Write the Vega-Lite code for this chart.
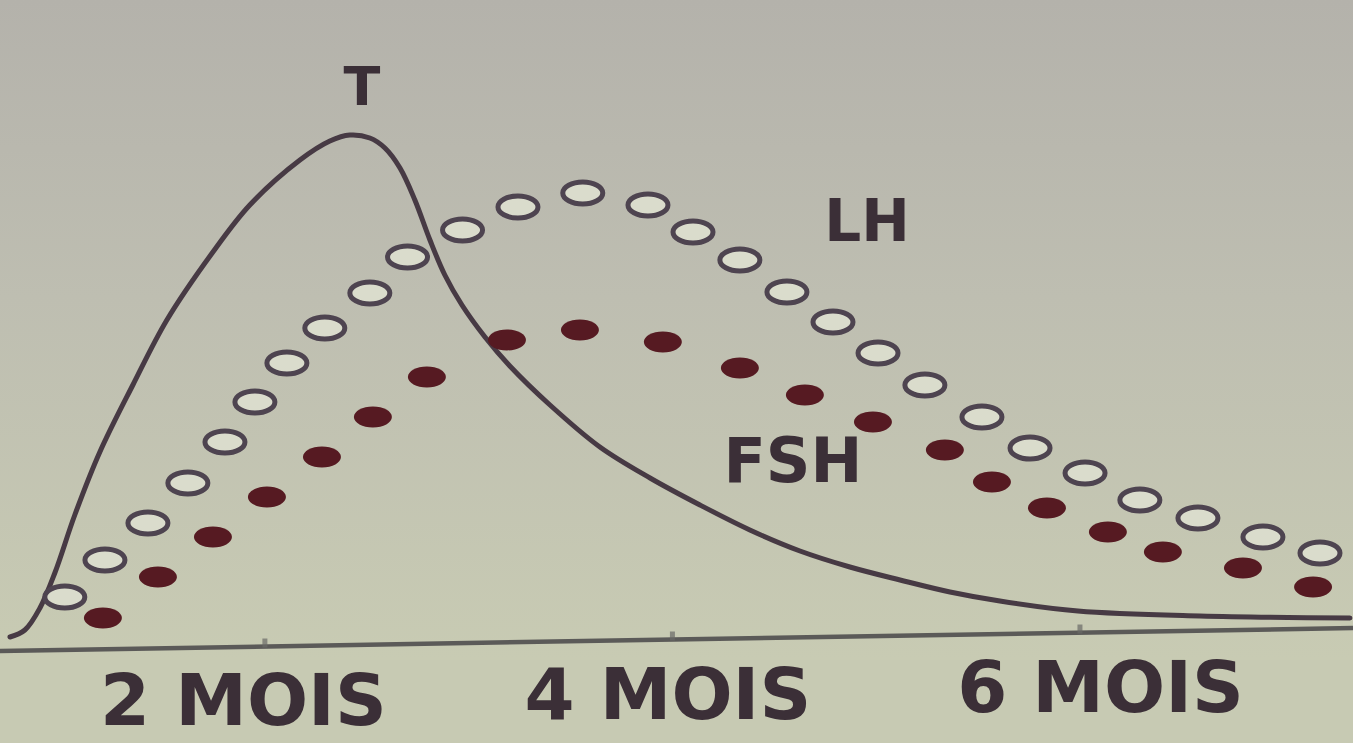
{
  "$schema": "https://vega.github.io/schema/vega-lite/v6.json",
  "width": 1353,
  "height": 660,
  "autosize": {"type": "none"},
  "padding": {"left": 0, "top": 0, "right": 0, "bottom": 83},
  "background": "#c7cab3",
  "config": {
    "view": {
      "stroke": null,
      "fill": {
        "gradient": "linear",
        "x1": 0, "y1": 0, "x2": 0, "y2": 1,
        "stops": [
          {"offset": 0, "color": "#b4b2ab"},
          {"offset": 0.45, "color": "#bebeb1"},
          {"offset": 1, "color": "#c8cbb3"}
        ]
      }
    },
    "text": {"font": "DejaVu Sans", "fontWeight": "bold", "color": "#3b2f37"}
  },
  "datasets": {
    "axisline": [
      {"m": 0.7, "v": 9},
      {"m": 7.34, "v": 32}
    ],
    "notches": [
      {"m": 2, "v": 17},
      {"m": 4, "v": 24},
      {"m": 6, "v": 31}
    ],
    "T": [
      {"m": 0.749, "v": 23},
      {"m": 0.822, "v": 30},
      {"m": 0.896, "v": 52},
      {"m": 0.969, "v": 87},
      {"m": 1.067, "v": 145},
      {"m": 1.190, "v": 208},
      {"m": 1.352, "v": 275},
      {"m": 1.519, "v": 340},
      {"m": 1.745, "v": 408},
      {"m": 1.926, "v": 455},
      {"m": 2.172, "v": 500},
      {"m": 2.319, "v": 519},
      {"m": 2.417, "v": 525},
      {"m": 2.515, "v": 522},
      {"m": 2.589, "v": 512},
      {"m": 2.663, "v": 492},
      {"m": 2.736, "v": 460},
      {"m": 2.810, "v": 420},
      {"m": 2.883, "v": 385},
      {"m": 2.967, "v": 355},
      {"m": 3.080, "v": 323},
      {"m": 3.202, "v": 294},
      {"m": 3.399, "v": 255},
      {"m": 3.644, "v": 213},
      {"m": 3.890, "v": 182},
      {"m": 4.135, "v": 155},
      {"m": 4.380, "v": 130},
      {"m": 4.626, "v": 109},
      {"m": 4.871, "v": 93},
      {"m": 5.117, "v": 80},
      {"m": 5.362, "v": 68},
      {"m": 5.607, "v": 59},
      {"m": 5.990, "v": 49},
      {"m": 6.589, "v": 44},
      {"m": 7.325, "v": 42}
    ],
    "LH": [
      {"m": 1.018, "v": 63},
      {"m": 1.215, "v": 100},
      {"m": 1.426, "v": 137},
      {"m": 1.622, "v": 177},
      {"m": 1.804, "v": 218},
      {"m": 1.951, "v": 258},
      {"m": 2.108, "v": 297},
      {"m": 2.294, "v": 332},
      {"m": 2.515, "v": 367},
      {"m": 2.700, "v": 403},
      {"m": 2.970, "v": 430},
      {"m": 3.242, "v": 453},
      {"m": 3.560, "v": 467},
      {"m": 3.880, "v": 455},
      {"m": 4.101, "v": 428},
      {"m": 4.331, "v": 400},
      {"m": 4.562, "v": 368},
      {"m": 4.788, "v": 338},
      {"m": 5.009, "v": 307},
      {"m": 5.239, "v": 275},
      {"m": 5.519, "v": 243},
      {"m": 5.755, "v": 212},
      {"m": 6.025, "v": 187},
      {"m": 6.294, "v": 160},
      {"m": 6.579, "v": 142},
      {"m": 6.898, "v": 123},
      {"m": 7.178, "v": 107}
    ],
    "FSH": [
      {"m": 1.205, "v": 42},
      {"m": 1.475, "v": 83},
      {"m": 1.745, "v": 123},
      {"m": 2.010, "v": 163},
      {"m": 2.280, "v": 203},
      {"m": 2.530, "v": 243},
      {"m": 2.795, "v": 283},
      {"m": 3.188, "v": 320},
      {"m": 3.546, "v": 330},
      {"m": 3.953, "v": 318},
      {"m": 4.331, "v": 292},
      {"m": 4.650, "v": 265},
      {"m": 4.984, "v": 238},
      {"m": 5.337, "v": 210},
      {"m": 5.568, "v": 178},
      {"m": 5.838, "v": 152},
      {"m": 6.137, "v": 128},
      {"m": 6.407, "v": 108},
      {"m": 6.800, "v": 92},
      {"m": 7.144, "v": 73}
    ],
    "labels": [
      {"m": 2.476, "v": 571, "label": "T", "size": "s"},
      {"m": 4.955, "v": 436, "label": "LH", "size": "m"},
      {"m": 4.591, "v": 197, "label": "FSH", "size": "l"}
    ]
  },
  "encoding": {
    "x": {
      "field": "m",
      "type": "quantitative",
      "scale": {"domain": [0.7, 7.34], "nice": false, "zero": false},
      "axis": {
        "title": null,
        "values": [2, 4, 6],
        "domain": false,
        "ticks": false,
        "tickSize": 0,
        "grid": false,
        "labelExpr": "datum.value + ' MOIS'",
        "labelFont": "DejaVu Sans",
        "labelFontWeight": "bold",
        "labelFontSize": 72,
        "labelColor": "#3b2f37",
        "labelBaseline": "middle",
        "labelLimit": 0,
        "labelFlush": false,
        "labelOverlap": false,
        "labelOffset": {
          "condition": [
            {"test": "datum.value == 2", "value": -22},
            {"test": "datum.value == 6", "value": 20}
          ],
          "value": -5
        },
        "labelPadding": {
          "condition": [
            {"test": "datum.value == 2", "value": 42},
            {"test": "datum.value == 6", "value": 29}
          ],
          "value": 36
        }
      }
    },
    "y": {
      "field": "v",
      "type": "quantitative",
      "scale": {"domain": [0, 660], "nice": false, "zero": false},
      "axis": null
    }
  },
  "layer": [
    {
      "data": {"name": "axisline"},
      "mark": {"type": "line", "stroke": "#5b5a58", "strokeWidth": 4.5}
    },
    {
      "data": {"name": "notches"},
      "mark": {"type": "tick", "orient": "vertical", "color": "#6a6a66", "size": 9, "thickness": 5}
    },
    {
      "data": {"name": "T"},
      "mark": {"type": "line", "stroke": "#473a44", "strokeWidth": 5, "interpolate": "catmull-rom", "strokeCap": "round"}
    },
    {
      "data": {"name": "LH"},
      "mark": {
        "type": "point",
        "shape": "M-1,0A1,0.55,0,1,1,1,0A1,0.55,0,1,1,-1,0Z",
        "size": 1600,
        "filled": true,
        "fill": "#dadccc",
        "fillOpacity": 1,
        "stroke": "#4e4450",
        "strokeWidth": 5,
        "opacity": 1
      }
    },
    {
      "data": {"name": "FSH"},
      "mark": {
        "type": "point",
        "shape": "M-1,0A1,0.55,0,1,1,1,0A1,0.55,0,1,1,-1,0Z",
        "size": 1444,
        "filled": true,
        "fill": "#561a22",
        "fillOpacity": 1,
        "opacity": 1
      }
    },
    {
      "data": {"name": "labels"},
      "mark": {"type": "text", "align": "center", "baseline": "middle"},
      "encoding": {
        "text": {"field": "label"},
        "size": {
          "field": "size",
          "type": "nominal",
          "scale": {"domain": ["s", "m", "l"], "range": [54, 62, 68]},
          "legend": null
        }
      }
    }
  ]
}
